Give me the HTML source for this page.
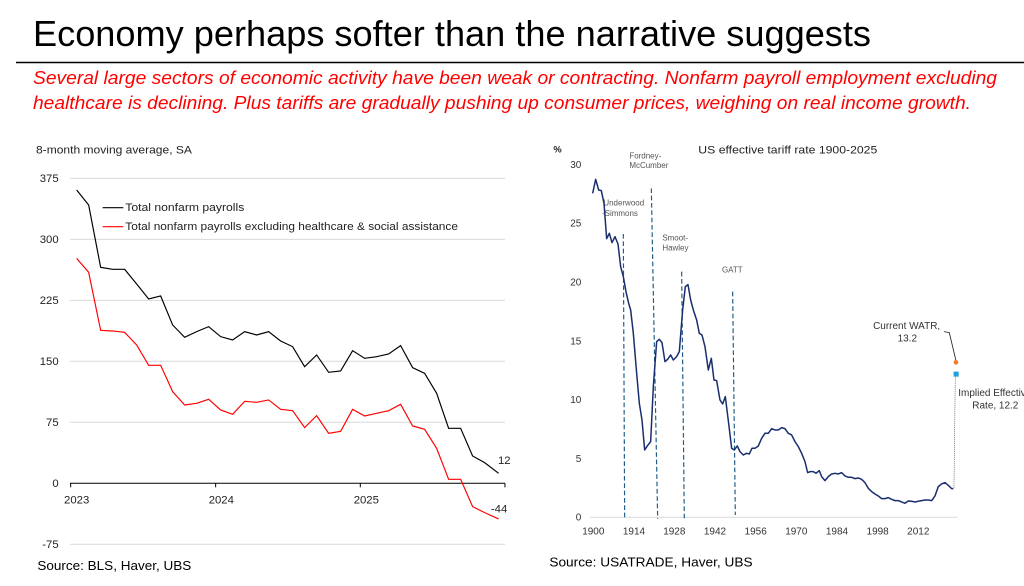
<!DOCTYPE html>
<html><head><meta charset="utf-8"><style>html,body{margin:0;padding:0;background:#fff}svg{display:block}</style></head>
<body>
<svg width="1024" height="586" viewBox="0 0 1024 586" xmlns="http://www.w3.org/2000/svg" font-family="Liberation Sans, sans-serif">
<text x="33" y="46" font-size="36" fill="#000" textLength="838" lengthAdjust="spacingAndGlyphs">Economy perhaps softer than the narrative suggests</text>
<line x1="16" y1="62.5" x2="1024" y2="62.5" stroke="#000" stroke-width="1.5"/>
<text x="33" y="84" font-size="18" font-style="italic" fill="#ff0000" textLength="964" lengthAdjust="spacingAndGlyphs">Several large sectors of economic activity have been weak or contracting. Nonfarm payroll employment excluding</text>
<text x="33" y="109" font-size="18" font-style="italic" fill="#ff0000" textLength="938" lengthAdjust="spacingAndGlyphs">healthcare is declining. Plus tariffs are gradually pushing up consumer prices, weighing on real income growth.</text>

<!-- Left chart (zoom coords) -->
<g transform="translate(20,140) scale(0.3333)">
<text x="48" y="40" font-size="34" fill="#222" textLength="468" lengthAdjust="spacingAndGlyphs">8-month moving average, SA</text>
<g stroke="#d9d9d9" stroke-width="3">
<line x1="150" y1="115" x2="1455" y2="115"/><line x1="150" y1="298" x2="1455" y2="298"/><line x1="150" y1="481" x2="1455" y2="481"/><line x1="150" y1="664" x2="1455" y2="664"/><line x1="150" y1="847" x2="1455" y2="847"/><line x1="150" y1="1213" x2="1455" y2="1213"/>
</g>
<line x1="150" y1="1030" x2="1455" y2="1030" stroke="#000" stroke-width="3"/>
<g stroke="#000" stroke-width="3"><line x1="152" y1="1030" x2="152" y2="1042"/><line x1="587" y1="1030" x2="587" y2="1042"/><line x1="1021" y1="1030" x2="1021" y2="1042"/><line x1="1455" y1="1030" x2="1455" y2="1042"/></g>
<g font-size="34" fill="#222" text-anchor="end">
<text x="116" y="126">375</text><text x="116" y="309">300</text><text x="116" y="492">225</text><text x="116" y="675">150</text><text x="116" y="858">75</text><text x="116" y="1041">0</text><text x="116" y="1224">-75</text>
</g>
<g font-size="34" fill="#222" text-anchor="middle">
<text x="170" y="1090">2023</text><text x="604" y="1090">2024</text><text x="1039" y="1090">2025</text>
</g>
<text x="1472" y="972" font-size="34" fill="#222" text-anchor="end">12</text>
<text x="1462" y="1118" font-size="34" fill="#222" text-anchor="end">-44</text>
<line x1="248" y1="203" x2="310" y2="203" stroke="#000" stroke-width="3.5"/>
<line x1="248" y1="260" x2="310" y2="260" stroke="#ff0000" stroke-width="3.5"/>
<text x="316" y="213" font-size="34" fill="#222" textLength="357" lengthAdjust="spacingAndGlyphs">Total nonfarm payrolls</text>
<text x="316" y="270" font-size="34" fill="#222" textLength="998" lengthAdjust="spacingAndGlyphs">Total nonfarm payrolls excluding healthcare &amp; social assistance</text>
<polyline fill="none" stroke="#000" stroke-width="3.5" points="170,150 206,195 242,382 278,388 314,388 350,432 386,477 422,468 458,555 494,592 530,575 566,560 602,590 638,600 674,575 710,585 746,575 782,603 818,620 854,680 890,645 926,697 962,693 998,632 1034,655 1070,650 1106,642 1142,617 1178,683 1214,700 1250,760 1286,865 1322,865 1358,948 1394,968 1436,1000"/>
<polyline fill="none" stroke="#ff0000" stroke-width="3.5" points="170,355 206,397 242,571 278,573 314,577 350,615 386,676 422,676 458,755 494,795 530,790 566,778 602,810 638,823 674,784 710,787 746,780 782,808 818,812 854,863 890,827 926,880 962,874 998,808 1034,828 1070,820 1106,812 1142,793 1178,858 1214,868 1250,925 1286,1018 1322,1018 1358,1100 1394,1118 1436,1137"/>
<text x="52" y="1290" font-size="38" fill="#000" textLength="462" lengthAdjust="spacingAndGlyphs">Source: BLS, Haver, UBS</text>
</g>

<!-- Right chart (zoom coords) -->
<g transform="translate(540,140) scale(0.3333)">
<text x="40" y="38" font-size="28" font-weight="bold" fill="#222">%</text>
<text x="475" y="40" font-size="34" fill="#222" textLength="537" lengthAdjust="spacingAndGlyphs">US effective tariff rate 1900-2025</text>
<g font-size="30" fill="#333" text-anchor="end">
<text x="124" y="84">30</text><text x="124" y="260">25</text><text x="124" y="437">20</text><text x="124" y="613">15</text><text x="124" y="789">10</text><text x="124" y="966">5</text><text x="124" y="1142">0</text>
</g>
<line x1="150" y1="1132" x2="1252" y2="1132" stroke="#d9d9d9" stroke-width="3"/>
<g font-size="30" fill="#333" text-anchor="middle">
<text x="160" y="1183">1900</text><text x="282" y="1183">1914</text><text x="403" y="1183">1928</text><text x="525" y="1183">1942</text><text x="647" y="1183">1956</text><text x="769" y="1183">1970</text><text x="891" y="1183">1984</text><text x="1013" y="1183">1998</text><text x="1135" y="1183">2012</text>
</g>
<g stroke="#1f5c86" stroke-width="3.5" stroke-dasharray="14,8" fill="none">
<line x1="250" y1="282" x2="254" y2="1137"/>
<line x1="334" y1="145" x2="353" y2="1137"/>
<line x1="425" y1="395" x2="433" y2="1137"/>
<line x1="578" y1="455" x2="586" y2="1125"/>
</g>
<g font-size="24" fill="#555">
<text x="268" y="55">Fordney-</text><text x="268" y="84">McCumber</text>
<text x="190" y="196">Underwood</text><text x="186" y="228">-Simmons</text>
<text x="367" y="302">Smoot-</text><text x="367" y="332">Hawley</text>
<text x="546" y="398">GATT</text>
</g>
<polyline fill="none" stroke="#1a2e6e" stroke-width="4.5" stroke-linejoin="round" points="158,160 167,118 176,150 184,152 192,190 200,296 208,280 216,308 225,290 234,312 242,380 250,410 258,455 266,490 272,510 280,580 290,700 298,790 306,840 314,930 322,918 332,905 340,740 350,605 358,598 366,608 375,665 383,658 392,645 400,660 410,650 418,635 428,510 436,440 444,434 452,480 460,510 470,540 478,580 486,585 495,620 505,690 514,655 522,720 530,722 540,780 548,792 556,770 566,850 575,925 583,930 592,918 600,935 610,945 620,940 628,942 636,925 645,925 655,918 665,895 675,880 685,880 695,866 705,870 715,870 725,863 735,866 745,880 755,885 765,905 775,920 785,940 795,965 803,998 810,995 820,995 828,1000 838,992 845,1010 855,1022 865,1010 875,1002 885,1000 895,1002 905,998 915,1008 925,1012 935,1012 945,1016 955,1014 965,1018 975,1028 985,1045 995,1055 1005,1062 1015,1068 1025,1076 1035,1076 1045,1073 1055,1078 1065,1082 1075,1082 1085,1086 1095,1090 1105,1083 1115,1084 1125,1086 1135,1084 1145,1082 1155,1080 1165,1080 1175,1082 1185,1068 1195,1040 1205,1032 1215,1028 1225,1036 1235,1046 1240,1046"/>
<polyline fill="none" stroke="#222" stroke-width="2.5" points="1212,575 1228,578 1248,662"/>
<line x1="1246" y1="712" x2="1242" y2="1046" stroke="#444" stroke-width="2" stroke-dasharray="3,3"/>
<circle cx="1248" cy="667" r="7" fill="#f07b2a"/>
<rect x="1241" y="695" width="15" height="15" fill="#1ea0d8"/>
<g font-size="30" fill="#333" text-anchor="middle">
<text x="1100" y="567">Current WATR,</text><text x="1102" y="605">13.2</text>
</g>
<text x="1255" y="768" font-size="30" fill="#333">Implied Effective</text>
<text x="1297" y="806" font-size="30" fill="#333">Rate, 12.2</text>
<text x="28" y="1280" font-size="40" fill="#000" textLength="610" lengthAdjust="spacingAndGlyphs">Source: USATRADE, Haver, UBS</text>
</g>
</svg>
</body></html>
